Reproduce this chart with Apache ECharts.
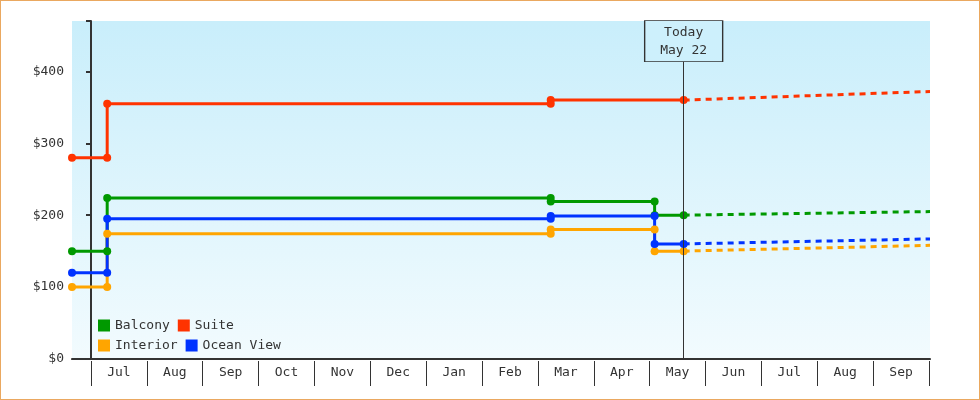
<!DOCTYPE html>
<html>
<head>
<meta charset="utf-8">
<script src="https://cdn.jsdelivr.net/npm/echarts@6/dist/echarts.min.js"></script>
<style>
html, body { margin: 0; padding: 0; background: #fff; }
#main { width: 980px; height: 400px; box-sizing: border-box; border: 1px solid #eaa860; }
</style>
</head>
<body>
<div id="main"></div>
<script>
// x values are in month units: 0 = start of Jul, 10.61 = May 22
var months = ['Jul', 'Aug', 'Sep', 'Oct', 'Nov', 'Dec', 'Jan', 'Feb', 'Mar', 'Apr', 'May', 'Jun', 'Jul', 'Aug', 'Sep'];
var yTicks = ['$0', '$100', '$200', '$300', '$400'];
var today = 10.61;
var xMin = -0.34, xMax = 15.02;

var balcony   = [[-0.34, 150], [0.29, 150], [0.29, 224], [8.23, 224], [8.23, 219], [10.09, 219], [10.09, 200], [10.61, 200]];
var suite     = [[-0.34, 280], [0.29, 280], [0.29, 355], [8.23, 355], [8.23, 360], [10.61, 360]];
var interior  = [[-0.34, 100], [0.29, 100], [0.29, 174], [8.23, 174], [8.23, 180], [10.09, 180], [10.09, 150], [10.61, 150]];
var oceanView = [[-0.34, 120], [0.29, 120], [0.29, 195], [8.23, 195], [8.23, 199], [10.09, 199], [10.09, 160], [10.61, 160]];

var balconyFc   = [[10.61, 200], [15.02, 205]];
var suiteFc     = [[10.61, 360], [15.02, 372]];
var interiorFc  = [[10.61, 150], [15.02, 158]];
var oceanViewFc = [[10.61, 160], [15.02, 167]];

var font = 'DejaVu Sans Mono';
var colors = { Balcony: '#009900', Suite: '#ff3300', Interior: '#ffa500', 'Ocean View': '#0033ff' };

function solid(name, data) {
    return {
        name: name, type: 'line', data: data, color: colors[name],
        symbol: 'circle', symbolSize: 8, lineStyle: { width: 3 }, z: 3
    };
}
function dashed(name, data) {
    return {
        name: name, type: 'line', data: data, color: colors[name],
        symbol: 'none', lineStyle: { width: 3, type: [6, 5] }, z: 2
    };
}

var myChart = echarts.init(document.getElementById('main'));

var suiteSeries = solid('Suite', suite);
suiteSeries.markLine = {
    silent: true, symbol: 'none',
    lineStyle: { color: '#333', width: 1, type: 'solid' },
    label: { show: false },
    data: [[{ coord: [today, 0] }, { coord: [today, 414] }]]
};
suiteSeries.markPoint = {
    silent: true,
    symbol: 'rect', symbolSize: [78, 41],
    itemStyle: { color: '#cdf0fc', borderColor: '#333', borderWidth: 1 },
    label: { show: true, formatter: 'Today\nMay 22', color: '#333', fontFamily: font, fontSize: 13, lineHeight: 18 },
    data: [{ coord: [today, 442] }]
};

option = {
    backgroundColor: '#fff',
    textStyle: { fontFamily: font },
    legend: [
        {
            data: ['Balcony', 'Suite'], left: 92, top: 313, itemWidth: 12, itemHeight: 12, itemGap: 8,
            icon: 'rect', textStyle: { fontFamily: font, fontSize: 13, color: '#333', width: 70 }
        },
        {
            data: ['Interior', 'Ocean View'], left: 92, top: 333, itemWidth: 12, itemHeight: 12, itemGap: 8,
            icon: 'rect', textStyle: { fontFamily: font, fontSize: 13, color: '#333', width: 70 }
        }
    ],
    grid: [
        {
            left: 71, right: 49, top: 20, bottom: 40, show: true, borderWidth: 0,
            backgroundColor: new echarts.graphic.LinearGradient(0, 0, 0, 1, [
                { offset: 0, color: '#c9eefb' },
                { offset: 1, color: '#f2fbfe' }
            ])
        },
        { left: 90, right: 50, top: 360, height: 25 }
    ],
    xAxis: [
        {
            type: 'value', gridIndex: 0, min: xMin, max: xMax, offset: 25,
            axisLine: { show: true, lineStyle: { color: '#333', width: 1 } },
            axisTick: { show: false }, axisLabel: { show: false }, splitLine: { show: false }
        },
        {
            type: 'value', gridIndex: 0, min: xMin, max: xMax, position: 'bottom',
            axisLine: { show: true, lineStyle: { color: '#333', width: 2 } },
            axisTick: { show: false }, axisLabel: { show: false }, splitLine: { show: false }
        },
        {
            type: 'category', gridIndex: 1, data: months, boundaryGap: true,
            axisLine: { show: false },
            axisTick: { show: true, inside: true, length: 25, lineStyle: { color: '#333' } },
            axisLabel: { inside: true, margin: 13, verticalAlign: 'middle', color: '#333', fontFamily: font, fontSize: 13 }
        }
    ],
    yAxis: [
        {
            type: 'value', gridIndex: 0, min: 0, max: 470, interval: 100,
            axisLine: { show: true, lineStyle: { color: '#333', width: 2 } },
            axisTick: { show: true, length: 5, lineStyle: { color: '#333', width: 2 } },
            axisLabel: {
                color: '#333', fontFamily: font, fontSize: 13, margin: 8,
                formatter: function (v) { return yTicks[v / 100] || ''; }
            },
            splitLine: { show: false }
        },
        { type: 'value', gridIndex: 1, show: false }
    ],
    series: [
        solid('Balcony', balcony), suiteSeries, solid('Interior', interior), solid('Ocean View', oceanView),
        dashed('Balcony', balconyFc), dashed('Suite', suiteFc), dashed('Interior', interiorFc), dashed('Ocean View', oceanViewFc)
    ]
};
myChart.setOption(option);
</script>
</body>
</html>
